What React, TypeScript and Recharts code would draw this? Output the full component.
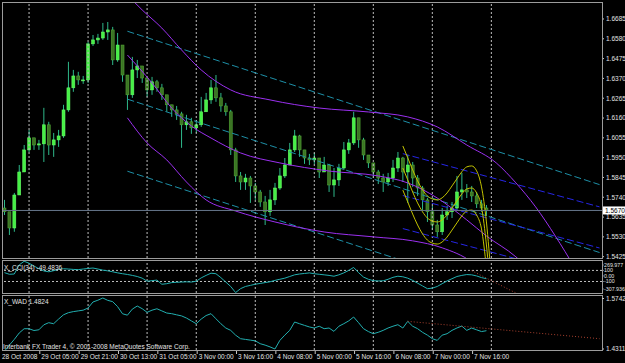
import { ComposedChart, Bar, Line, XAxis, YAxis, ReferenceLine } from "recharts";

// GBPUSD-ish, 2-hour candles, 28 Oct - 7 Nov 2008
const timeLabels = [
  "28 Oct 2008", "29 Oct 05:00", "29 Oct 21:00", "30 Oct 13:00", "31 Oct 05:00",
  "3 Nov 00:00", "3 Nov 16:00", "4 Nov 08:00", "5 Nov 00:00", "5 Nov 16:00",
  "6 Nov 08:00", "7 Nov 00:00", "7 Nov 16:00",
];
const timeTickSlots = [0, 8, 16, 24, 32, 40, 48, 56, 64, 72, 80, 88, 96];
const daySeparators = [5, 17, 29, 39, 51, 63, 75, 87, 99];

const firstOpen = 1.5683;
const highs = [
  1.5726, 1.5646, 1.5763, 1.5911, 1.6017, 1.6097, 1.6055, 1.6044, 1.6214, 1.614,
  1.6081, 1.6097, 1.623, 1.6458, 1.6415, 1.6405, 1.6383, 1.6563, 1.66, 1.6606,
  1.6664, 1.6669, 1.6643, 1.6611, 1.6494, 1.6372, 1.6484, 1.6468, 1.6415, 1.6362,
  1.6378, 1.6362, 1.6341, 1.6267, 1.623, 1.6224, 1.6193, 1.6177, 1.6161, 1.615,
  1.6272, 1.6293, 1.6362, 1.6388, 1.6293, 1.624, 1.6203, 1.6002, 1.5874, 1.5864,
  1.5853, 1.5816, 1.5779, 1.5747, 1.5779, 1.5816, 1.5895, 1.5948, 1.6028, 1.6097,
  1.6071, 1.5991, 1.597, 1.5975, 1.5948, 1.5954, 1.5917, 1.5895, 1.5917, 1.6033,
  1.6049, 1.6193, 1.6161, 1.6055, 1.5964, 1.5922, 1.5885, 1.5864, 1.5869, 1.5938,
  1.598, 1.5954, 1.5964, 1.5927, 1.5858, 1.58, 1.5736, 1.5694, 1.562, 1.5683,
  1.5694, 1.5715, 1.5853, 1.5869, 1.581, 1.58, 1.5768, 1.5726, 1.5699,
];
const lows = [
  1.5646, 1.554, 1.5557, 1.5763, 1.5874, 1.598, 1.5991, 1.5991, 1.5927, 1.5964,
  1.5954, 1.6007, 1.6055, 1.6193, 1.6299, 1.6336, 1.6341, 1.6346, 1.6542, 1.6553,
  1.6574, 1.6574, 1.6441, 1.6458, 1.6352, 1.6203, 1.6267, 1.6372, 1.6346, 1.6272,
  1.6283, 1.6299, 1.6256, 1.6193, 1.6166, 1.615, 1.6002, 1.6097, 1.6076, 1.6081,
  1.6113, 1.6193, 1.6235, 1.6246, 1.6193, 1.6172, 1.5964, 1.5821, 1.5779, 1.5779,
  1.571, 1.5726, 1.5689, 1.5593, 1.5641, 1.5699, 1.5779, 1.5842, 1.5922, 1.598,
  1.5954, 1.5917, 1.5911, 1.5917, 1.5842, 1.5874, 1.5768, 1.5742, 1.58, 1.5885,
  1.597, 1.6017, 1.6002, 1.5938, 1.5895, 1.5842, 1.581, 1.5768, 1.58, 1.5821,
  1.5874, 1.5821, 1.571, 1.5795, 1.5747, 1.5673, 1.5609, 1.5566, 1.553, 1.554,
  1.562, 1.563, 1.5673, 1.5726, 1.5736, 1.5715, 1.5683, 1.5663, 1.5641,
];
const closes = [
  1.5663, 1.5577, 1.5752, 1.5874, 1.5991, 1.6055, 1.6017, 1.6023, 1.6124, 1.6017,
  1.6044, 1.6065, 1.6203, 1.632, 1.6383, 1.6362, 1.6362, 1.6553, 1.6574, 1.6584,
  1.6616, 1.6627, 1.6468, 1.6547, 1.6388, 1.6283, 1.6415, 1.6436, 1.6372, 1.6309,
  1.6352, 1.632, 1.6283, 1.623, 1.6203, 1.6182, 1.6124, 1.614, 1.6108, 1.6124,
  1.6193, 1.6256, 1.632, 1.6267, 1.6224, 1.6193, 1.5991, 1.5853, 1.5821, 1.5842,
  1.58, 1.5768, 1.5715, 1.5663, 1.5726, 1.5789, 1.5853, 1.5911, 1.5991, 1.6065,
  1.5991, 1.5948, 1.5938, 1.5948, 1.5874, 1.5911, 1.5805, 1.5832, 1.5895, 1.5991,
  1.6028, 1.6161, 1.6044, 1.5964, 1.5922, 1.5874, 1.5842, 1.5821, 1.5842, 1.5895,
  1.5948, 1.5874, 1.5911, 1.5842, 1.5789, 1.5726, 1.5663, 1.5593, 1.5557, 1.5646,
  1.5663, 1.5683, 1.5768, 1.5779, 1.5768, 1.5747, 1.5705, 1.5683, 1.567,
];
const priceTicks = [1.6685, 1.658, 1.6475, 1.637, 1.6265, 1.616, 1.6055, 1.595, 1.5845, 1.574, 1.5635, 1.553, 1.5425];
const lastPrice = 1.567;

// regression channel (curved) - [slot, price]
const purpleTop: [number, number][] = [
  [25, 1.6812], [28, 1.6733], [32, 1.6637], [36, 1.6521], [40, 1.6415], [46, 1.6309],
  [54, 1.6256], [64, 1.6213], [74, 1.6192], [82, 1.6166], [88, 1.6113], [94, 1.6017],
  [100, 1.5922], [104, 1.5816], [108, 1.5689], [112, 1.5535], [116, 1.5365],
];
const purpleMid: [number, number][] = [
  [25, 1.6494], [30, 1.6346], [34, 1.6213], [38, 1.6118], [42, 1.6054], [48, 1.5975],
  [56, 1.5922], [66, 1.5879], [76, 1.5853], [82, 1.5816], [88, 1.5736], [94, 1.562],
  [98, 1.5535], [104, 1.5424], [108, 1.5323],
];
const purpleLow: [number, number][] = [
  [25, 1.6161], [29, 1.6028], [33, 1.5938], [37, 1.5821], [41, 1.5726], [47, 1.5667],
  [55, 1.5609], [65, 1.5556], [75, 1.553], [83, 1.5509], [89, 1.5472], [95, 1.5397], [99, 1.5302],
];
// straight regression channel
const cyanTop: [number, number][] = [[25, 1.662], [121, 1.5807]];
const cyanMid: [number, number][] = [[25, 1.626], [121, 1.5447]];
const cyanLow: [number, number][] = [[25, 1.5878], [121, 1.5065]];
const blueTop: [number, number][] = [[81, 1.5971], [121, 1.5689]];
const blueMid: [number, number][] = [[81, 1.5749], [121, 1.5471]];
const blueLow: [number, number][] = [[81, 1.5574], [121, 1.5296]];
// polynomial channel, from slot 81
const yellowStart = 81;
const yellowUp = [
  1.6012, 1.5949, 1.5885, 1.5827, 1.578, 1.5747, 1.5731, 1.5726, 1.5737, 1.5763,
  1.58, 1.5838, 1.5875, 1.5901, 1.5906, 1.588, 1.5795, 1.5609, 1.5302,
];
const yellowMid = [
  1.5895, 1.5832, 1.5768, 1.571, 1.5663, 1.563, 1.5614, 1.5609, 1.562, 1.5646,
  1.5683, 1.5721, 1.5758, 1.5784, 1.5789, 1.5763, 1.5689, 1.5487, 1.5196,
];
const yellowLow = [
  1.5778, 1.5715, 1.5651, 1.5593, 1.5546, 1.5513, 1.5497, 1.5492, 1.5503, 1.5529,
  1.5566, 1.5604, 1.5641, 1.5667, 1.5672, 1.5646, 1.5572, 1.5366, 1.509,
];

const cci = [
  60, 30, 35, 200, 265, 230, 180, 130, 90, 75, 95, 120, 130, 125, 118, 114, 125, 135, 143, 125,
  105, 92, 75, 56, 40, 27, 10, -10, -40, -95, -85, -75, -150, -140, -120, -115, -110, -106, -110, -95,
  -35, 10, 50, 40, -30, -110, -190, -300, -230, -190, -170, -150, -135, -120, -105, -80, -60, -40, -10, 20,
  35, 45, 55, 40, 30, 20, 10, -5, 20, 55, 100, 154, 60, -20, -60, -85, -90, -88, -60, -25,
  -5, -15, -40, -80, -130, -180, -230, -220, -190, -140, -90, -50, -10, 10, 25, 20, 0, -30, -49.48,
];
const cciTicks = [269.977, 100, 0, -100, -307.936];
const cciTickText = ["269.977", "100", "0.00", "-100", "-307.936"];
const cciSignal: [number, number][] = [[95, 95], [104, -308]];

const wad = [
  1.425, 1.442, 1.458, 1.476, 1.488, 1.488, 1.483, 1.485, 1.499, 1.5049,
  1.5021, 1.515, 1.527, 1.533, 1.536, 1.538, 1.54, 1.5461, 1.563, 1.568,
  1.5742, 1.5676, 1.564, 1.55, 1.53, 1.526, 1.543, 1.5517, 1.5442, 1.534,
  1.54, 1.544, 1.538, 1.532, 1.5302, 1.527, 1.524, 1.518, 1.51, 1.5021,
  1.515, 1.525, 1.5302, 1.516, 1.5021, 1.49, 1.4834, 1.47, 1.46, 1.458,
  1.456, 1.454, 1.446, 1.442, 1.437, 1.4311, 1.4553, 1.47, 1.4834, 1.5068,
  1.502, 1.4974, 1.493, 1.4899, 1.495, 1.4881, 1.49, 1.4806, 1.495, 1.5021,
  1.51, 1.5208, 1.505, 1.4881, 1.48, 1.474, 1.478, 1.4834, 1.49, 1.495,
  1.4993, 1.4899, 1.5087, 1.495, 1.4881, 1.478, 1.47, 1.46, 1.4553, 1.47,
  1.474, 1.4834, 1.49, 1.4955, 1.4834, 1.4899, 1.485, 1.48, 1.4824,
];
const wadMax = 1.5742;
const wadMin = 1.4311;
const wadSignal: [number, number][] = [[82, 1.5087], [121, 1.46]];

const SLOTS = 122;
const FONT = "Liberation Sans";
const TEXT = "#E4E4E4";
const FRAME = "#9C9C9C";
const GRID = "#BEBEBE";

const pick = (pairs: [number, number][], i: number) => {
  const p = pairs.find((q) => q[0] === i);
  return p ? p[1] : null;
};
const fromStart = (arr: number[], start: number, i: number) =>
  i >= start && i < start + arr.length ? arr[i - start] : null;

const rows = Array.from({ length: SLOTS }, (_, i) => {
  const has = i < closes.length;
  return {
    i,
    hl: has ? [lows[i], highs[i]] : null,
    o: has ? (i === 0 ? firstOpen : closes[i - 1]) : null,
    c: has ? closes[i] : null,
    pTop: pick(purpleTop, i),
    pMid: pick(purpleMid, i),
    pLow: pick(purpleLow, i),
    cTop: pick(cyanTop, i),
    cMid: pick(cyanMid, i),
    cLow: pick(cyanLow, i),
    bTop: pick(blueTop, i),
    bMid: pick(blueMid, i),
    bLow: pick(blueLow, i),
    yUp: fromStart(yellowUp, yellowStart, i),
    yMid: fromStart(yellowMid, yellowStart, i),
    yLow: fromStart(yellowLow, yellowStart, i),
    cci: i < cci.length ? cci[i] : null,
    cciSig: pick(cciSignal, i),
    wad: i < wad.length ? wad[i] : null,
    wadSig: pick(wadSignal, i),
  };
});

const Candle = (props: any) => {
  const { x, y, width, height, payload } = props;
  if (!payload || !payload.hl) return null;
  const [lo, hi] = payload.hl;
  const k = height / (hi - lo || 1e-9);
  const py = (v: number) => y + (hi - v) * k;
  const bull = payload.c >= payload.o;
  const top = py(Math.max(payload.o, payload.c));
  const bot = py(Math.min(payload.o, payload.c));
  const cx = x + width / 2;
  return (
    <g>
      <line x1={cx} x2={cx} y1={y} y2={y + height} stroke="#2EB88A" strokeWidth={1} />
      <rect
        x={x}
        y={top}
        width={width}
        height={Math.max(1, bot - top)}
        fill={bull ? "#46F046" : "#3C7424"}
        stroke={bull ? "#6CFF6C" : "#55B038"}
        strokeWidth={0.5}
      />
    </g>
  );
};

const PriceTick = (props: any) => {
  const { x, y, payload } = props;
  return (
    <g>
      <line x1={x} x2={x + 2} y1={y} y2={y} stroke="#C8C8C8" />
      <text x={x + 4} y={y} dy={2.3} fill={TEXT} fontSize={6.5} fontFamily={FONT}>
        {Number(payload.value).toFixed(4)}
      </text>
    </g>
  );
};

const CciTick = (props: any) => {
  const { x, y, payload } = props;
  const k = cciTicks.indexOf(payload.value);
  const shift = k === 0 ? 4 : k === cciTicks.length - 1 ? -4 : 0;
  return (
    <g>
      <line x1={x} x2={x + 1.5} y1={y + shift} y2={y + shift} stroke="#C8C8C8" />
      <text x={x + 2} y={y + shift} dy={1.9} fill={TEXT} fontSize={5.3} fontFamily={FONT}>
        {cciTickText[k]}
      </text>
    </g>
  );
};

const TimeTick = (props: any) => {
  const { x, y, payload } = props;
  const k = timeTickSlots.indexOf(payload.value);
  return (
    <g>
      {k > 0 && <line x1={x - 4} x2={x - 4} y1={y} y2={y + 4} stroke="#C8C8C8" />}
      <text x={x - 2.5} y={y + 9} fill={TEXT} fontSize={6.5} fontFamily={FONT}>
        {timeLabels[k]}
      </text>
    </g>
  );
};

const PriceFlag = ({ viewBox }: any) => {
  if (!viewBox) return null;
  const x0 = viewBox.x + viewBox.width + 1;
  return (
    <g>
      <rect x={x0} y={viewBox.y - 4} width={22} height={8} fill="#FFFFFF" />
      <text x={x0 + 2} y={viewBox.y} dy={2.3} fill="#000000" fontSize={6.5} fontFamily={FONT}>
        {lastPrice.toFixed(4)}
      </text>
    </g>
  );
};

// axis label drawn next to a reference level, right of the plot
const SideLabel = ({ viewBox, value }: any) => {
  if (!viewBox) return null;
  const x0 = viewBox.x + viewBox.width;
  return (
    <g>
      <line x1={x0} x2={x0 + 2} y1={viewBox.y} y2={viewBox.y} stroke="#C8C8C8" />
      <text x={x0 + 4} y={viewBox.y} dy={2.3} fill={TEXT} fontSize={6.5} fontFamily={FONT}>
        {value}
      </text>
    </g>
  );
};

const seps = (tag: string) =>
  daySeparators.map((s) => (
    <ReferenceLine key={tag + s} x={s} stroke={GRID} strokeDasharray="2 2" strokeWidth={1} />
  ));

const lineProps = { dot: false, activeDot: false, isAnimationActive: false, connectNulls: true } as const;

const frame = (left: number, top: number, w: number, h: number) => ({
  position: "absolute" as const,
  left,
  top,
  width: w,
  height: h,
  border: `1px solid ${FRAME}`,
  boxSizing: "border-box" as const,
  pointerEvents: "none" as const,
});

const label = (left: number, top: number) => ({
  position: "absolute" as const,
  left,
  top,
  color: TEXT,
  fontFamily: FONT,
  fontSize: 6.5,
  lineHeight: "7px",
  whiteSpace: "nowrap" as const,
});

export default function App() {
  return (
    <div style={{ position: "relative", width: 625, height: 363, background: "#000", overflow: "hidden" }}>
      <style>{"body{margin:0;background:#000}"}</style>

      <div style={{ position: "absolute", left: 0, top: 0 }}>
        <ComposedChart width={625} height={260} data={rows} margin={{ top: 2, right: 0, bottom: 2, left: 2 }}>
          <XAxis dataKey="i" type="category" scale="band" hide />
          <YAxis
            orientation="right"
            width={23}
            domain={[1.5418, 1.6775]}
            allowDataOverflow
            ticks={priceTicks}
            interval={0}
            axisLine={false}
            tickLine={false}
            tickSize={0}
            tickMargin={0}
            tick={<PriceTick />}
          />
          {seps("m")}
          <Bar dataKey="hl" barSize={3} shape={<Candle />} isAnimationActive={false} />
          <Line dataKey="cTop" stroke="#1E90A8" strokeDasharray="7 3" {...lineProps} />
          <Line dataKey="cMid" stroke="#1E90A8" strokeDasharray="7 3" {...lineProps} />
          <Line dataKey="cLow" stroke="#1E90A8" strokeDasharray="7 3" {...lineProps} />
          <Line dataKey="bTop" stroke="#2626E6" strokeDasharray="7 3" {...lineProps} />
          <Line dataKey="bMid" stroke="#2626E6" strokeDasharray="7 3" {...lineProps} />
          <Line dataKey="bLow" stroke="#2626E6" strokeDasharray="7 3" {...lineProps} />
          <Line type="monotone" dataKey="pTop" stroke="#9B30F0" {...lineProps} />
          <Line type="monotone" dataKey="pMid" stroke="#9B30F0" {...lineProps} />
          <Line type="monotone" dataKey="pLow" stroke="#9B30F0" {...lineProps} />
          <Line type="monotone" dataKey="yUp" stroke="#C4C400" {...lineProps} />
          <Line type="monotone" dataKey="yMid" stroke="#C4C400" {...lineProps} />
          <Line type="monotone" dataKey="yLow" stroke="#C4C400" {...lineProps} />
          <ReferenceLine
            y={lastPrice}
            stroke="#66768A"
            strokeWidth={1}
            label={{ content: (p: any) => <PriceFlag viewBox={p.viewBox} /> }}
          />
        </ComposedChart>
      </div>

      <div style={{ position: "absolute", left: 0, top: 259 }}>
        <ComposedChart width={625} height={35} data={rows} margin={{ top: 2, right: 0, bottom: 1, left: 2 }}>
          <XAxis dataKey="i" type="category" scale="band" hide />
          <YAxis
            orientation="right"
            width={23}
            domain={[-307.936, 269.977]}
            allowDataOverflow
            ticks={cciTicks}
            interval={0}
            axisLine={false}
            tickLine={false}
            tickSize={0}
            tickMargin={0}
            tick={<CciTick />}
          />
          {seps("c")}
          <ReferenceLine y={100} stroke={GRID} strokeDasharray="2 2" />
          <ReferenceLine y={-100} stroke={GRID} strokeDasharray="2 2" />
          <Line dataKey="cci" stroke="#22AFB0" {...lineProps} />
          <Line dataKey="cciSig" stroke="#A8402E" strokeDasharray="1 2" {...lineProps} />
        </ComposedChart>
      </div>

      <div style={{ position: "absolute", left: 0, top: 294 }}>
        <ComposedChart width={625} height={69} data={rows} margin={{ top: 2, right: 0, bottom: 0, left: 2 }}>
          <XAxis
            dataKey="i"
            type="category"
            scale="band"
            height={13}
            ticks={timeTickSlots}
            interval={0}
            axisLine={false}
            tickLine={false}
            tickSize={0}
            tickMargin={0}
            tick={<TimeTick />}
          />
          <YAxis
            orientation="right"
            width={23}
            domain={[1.4283, 1.5798]}
            allowDataOverflow
            axisLine={false}
            tickLine={false}
            tick={false}
          />
          {seps("w")}
          <ReferenceLine
            y={wadMin}
            stroke="none"
            label={{ content: (p: any) => <SideLabel viewBox={p.viewBox} value={wadMin.toFixed(4)} /> }}
          />
          <Line dataKey="wad" stroke="#22AFB0" {...lineProps} />
          <Line dataKey="wadSig" stroke="#A8402E" strokeDasharray="1 2" {...lineProps} />
        </ComposedChart>
      </div>

      <div style={frame(2, 2, 601, 257)} />
      <div style={frame(2, 260, 601, 34)} />
      <div style={frame(2, 295, 601, 56)} />

      <div style={label(4, 264)}>X_CCI(34) -49.4836</div>
      <div style={label(4, 298)}>X_WAD 1.4824</div>
      <div style={label(3, 343)}>Interbank FX Trader 4, © 2001-2008 MetaQuotes Software Corp.</div>
      <div style={{ position: "absolute", left: 602, top: 298, width: 2, height: 1, background: "#C8C8C8" }} />
      <div style={label(606, 294.5)}>{wadMax.toFixed(4)}</div>
    </div>
  );
}
